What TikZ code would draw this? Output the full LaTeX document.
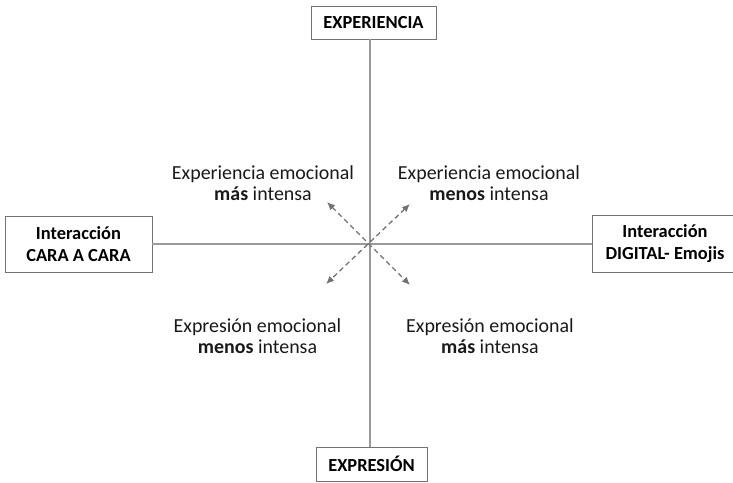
\documentclass[tikz,border=0pt]{standalone}
\usepackage{fontspec}
\setmainfont{Carlito}
\usetikzlibrary{arrows.meta}

\begin{document}
\begin{tikzpicture}[x=1bp,y=-1bp,
	caja/.style={draw=black!55, line width=0.9bp, fill=white, inner sep=0pt, align=center, font=\bfseries\fontsize{18.5}{22}\selectfont},
	etiqueta/.style={align=center, text=black!90, font=\fontsize{20}{21}\selectfont},
	eje/.style={draw=black!40, line width=1.1bp},
	flecha/.style={draw=black!55, line width=1.3bp, dash pattern=on 5bp off 3.5bp, {Latex[length=8bp,width=7bp]}-{Latex[length=8bp,width=7bp]}}]
	\useasboundingbox (0,0) rectangle (733,483);
	% ejes
	\coordinate (centro) at (370,244);
	\node[caja, minimum width=125bp, minimum height=33bp] (experiencia) at (373.5,22.5) {EXPERIENCIA};
	\node[caja, minimum width=111bp, minimum height=34bp] (expresion) at (371.5,464) {EXPRESIÓN};
	\node[caja, minimum width=147bp, minimum height=56bp] (cara) at (78.5,244) {Interacción\\CARA A CARA};
	\node[caja, minimum width=146bp, minimum height=57bp] (digital) at (665,243.5) {Interacción\\DIGITAL- Emojis};
	\draw[eje] (experiencia.south -| centro) -- (expresion.north -| centro);
	\draw[eje] (cara.east |- centro) -- (digital.west |- centro);
	% flechas
	\coordinate (arribaIzq) at (327,202);
	\coordinate (arribaDer) at (410,204);
	\coordinate (abajoIzq) at (326,284);
	\coordinate (abajoDer) at (410,285);
	\draw[flecha] (arribaIzq) -- (abajoDer);
	\draw[flecha] (arribaDer) -- (abajoIzq);
	% textos
	\node[etiqueta] (expMas) at (263,183) {Experiencia emocional\\\textbf{más} intensa};
	\node[etiqueta] (expMenos) at (489,183) {Experiencia emocional\\\textbf{menos} intensa};
	\node[etiqueta] (exprMenos) at (257.5,336) {Expresión emocional\\\textbf{menos} intensa};
	\node[etiqueta] (exprMas) at (490,336) {Expresión emocional\\\textbf{más} intensa};
\end{tikzpicture}
\end{document}
